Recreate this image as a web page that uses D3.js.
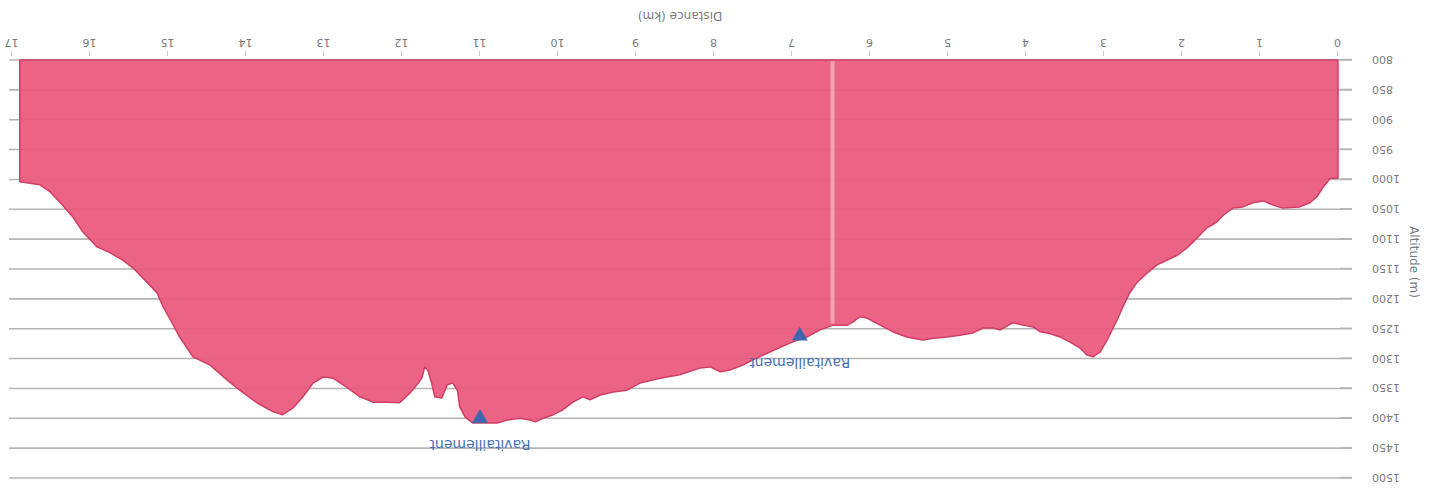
<!DOCTYPE html>
<html>
<head>
<meta charset="utf-8">
<script src="https://cdn.jsdelivr.net/npm/d3@7/dist/d3.min.js"></script>
<style>
  html, body { margin: 0; padding: 0; background: #fff; }
  svg { display: block; }
</style>
</head>
<body>
<svg id="chart" width="1447" height="494"></svg>
<script>
// Course profile: distance along the route (km) and altitude (m)
const distanceKm = [
  0.00, 0.10, 0.19, 0.27, 0.36, 0.49, 0.71, 0.83, 0.96, 1.09, 1.22, 1.35, 1.47, 1.55, 1.68, 1.77,
  1.86, 1.94, 2.06, 2.19, 2.32, 2.45, 2.58, 2.67, 2.76, 2.83, 2.96, 3.05, 3.14, 3.22, 3.31, 3.44,
  3.56, 3.73, 3.82, 3.91, 4.04, 4.17, 4.33, 4.42, 4.55, 4.68, 4.85, 5.01, 5.19, 5.32, 5.45, 5.53,
  5.71, 5.87, 6.04, 6.13, 6.22, 6.29, 6.47, 6.64, 6.81, 6.99, 7.15, 7.32, 7.50, 7.63, 7.79, 7.92,
  8.05, 8.18, 8.44, 8.69, 8.95, 9.12, 9.29, 9.46, 9.59, 9.68, 9.81, 9.94, 10.06, 10.19, 10.29, 10.36,
  10.49, 10.65, 10.78, 10.91, 11.09, 11.19, 11.26, 11.29, 11.35, 11.42, 11.49, 11.58, 11.62, 11.67, 11.71, 11.74,
  11.79, 11.90, 12.03, 12.19, 12.37, 12.54, 12.71, 12.88, 13.01, 13.14, 13.27, 13.40, 13.53, 13.65, 13.86, 14.08,
  14.24, 14.46, 14.68, 14.85, 14.97, 15.06, 15.14, 15.27, 15.45, 15.58, 15.74, 15.91, 16.09, 16.22, 16.38, 16.51,
  16.64, 16.90
];
const altitudeM = [
  998, 998, 1013, 1029, 1039, 1046, 1048, 1043, 1036, 1039, 1046, 1048, 1060, 1071, 1081, 1093,
  1105, 1115, 1127, 1135, 1143, 1157, 1173, 1190, 1214, 1235, 1269, 1289, 1297, 1294, 1282, 1272,
  1264, 1257, 1255, 1247, 1244, 1240, 1252, 1249, 1249, 1257, 1261, 1264, 1266, 1269, 1266, 1264,
  1255, 1244, 1232, 1230, 1239, 1244, 1244, 1252, 1264, 1272, 1281, 1291, 1302, 1311, 1319, 1322,
  1314, 1316, 1327, 1333, 1341, 1353, 1356, 1361, 1369, 1364, 1373, 1386, 1394, 1400, 1406, 1403,
  1400, 1403, 1408, 1408, 1408, 1398, 1381, 1353, 1341, 1344, 1366, 1364, 1341, 1319, 1314, 1331,
  1341, 1358, 1374, 1373, 1373, 1364, 1348, 1333, 1331, 1341, 1364, 1383, 1394, 1389, 1374, 1353,
  1336, 1311, 1297, 1264, 1235, 1214, 1190, 1172, 1148, 1135, 1123, 1113, 1088, 1063, 1039, 1021,
  1009, 1004
];

// Aid stations
const aidKm = [11.0, 6.9];
const aidAlt = [1400, 1262];
const aidLabels = ["Ravitaillement", "Ravitaillement"];

// Axis ticks and titles
const xTicks = d3.range(0, 18);
const yTicks = d3.range(800, 1501, 50);
const xTitle = "Distance (km)";
const yTitle = "Altitude (m)";

// Light seam in the fill
const seamKm = [6.48];

const W = 1447, H = 494;
const svg = d3.select("#chart");

// The whole profile is printed turned half a turn
const g = svg.append("g").attr("transform", `rotate(180, ${W / 2}, ${H / 2})`);

const x = d3.scaleLinear().domain([0, 17]).range([109, 1435]);
const y = d3.scaleLinear().domain([800, 1500]).range([434, 16]);

const profile = distanceKm.map((d, i) => ({ d, a: altitudeM[i] }));

// Horizontal grid
g.append("g")
  .selectAll("line")
  .data(yTicks)
  .join("line")
  .attr("x1", 95).attr("x2", 1438)
  .attr("y1", v => y(v)).attr("y2", v => y(v))
  .attr("stroke", "#b4b4b4")
  .attr("stroke-width", 1.6);

// Filled altitude area
const area = d3.area()
  .x(p => x(p.d))
  .y0(y(800))
  .y1(p => y(p.a));

g.append("path")
  .datum(profile)
  .attr("d", area)
  .attr("fill", "#ea5a7e")
  .attr("fill-opacity", 0.94)
  .attr("stroke", "#d03e64")
  .attr("stroke-width", 1.5)
  .attr("stroke-linejoin", "round");

// Seam
const altAt = km => {
  const i = d3.bisector(p => p.d).left(profile, km);
  const p0 = profile[Math.max(0, i - 1)], p1 = profile[Math.min(profile.length - 1, i)];
  const t = p1.d === p0.d ? 0 : (km - p0.d) / (p1.d - p0.d);
  return p0.a + t * (p1.a - p0.a);
};
g.append("g")
  .selectAll("line")
  .data(seamKm)
  .join("line")
  .attr("x1", k => x(k)).attr("x2", k => x(k))
  .attr("y1", y(800) - 1).attr("y2", k => y(altAt(k)) + 2)
  .attr("stroke", "#ffffff")
  .attr("stroke-opacity", 0.4)
  .attr("stroke-width", 4);

// Y axis
const yAxis = d3.axisLeft(y).tickValues(yTicks).tickSize(12).tickPadding(20).tickFormat(d3.format("d"));
const ya = g.append("g").attr("transform", "translate(107,0)").call(yAxis);
ya.select(".domain").remove();
ya.selectAll(".tick line").attr("stroke", "#b4b4b4").attr("stroke-width", 1.4);
ya.selectAll(".tick text")
  .attr("fill", "#7a7a7a")
  .style("font-family", "DejaVu Sans, sans-serif")
  .style("font-size", "11px");

// X axis
const xAxis = d3.axisBottom(x).tickValues(xTicks).tickSize(5).tickPadding(4).tickFormat(d3.format("d"));
const xa = g.append("g").attr("transform", "translate(0,438)").call(xAxis);
xa.select(".domain").remove();
xa.selectAll(".tick line").attr("stroke", "#c8c8c8");
xa.selectAll(".tick text")
  .attr("fill", "#7a7a7a")
  .style("font-family", "DejaVu Sans, sans-serif")
  .style("font-size", "11px");

// Axis titles
g.append("text")
  .attr("x", 767).attr("y", 482)
  .attr("text-anchor", "middle")
  .attr("fill", "#7a7a7a")
  .style("font-family", "DejaVu Sans, sans-serif")
  .style("font-size", "12px")
  .text(xTitle);

g.append("text")
  .attr("transform", "translate(34,232) rotate(-90)")
  .attr("text-anchor", "middle")
  .attr("dominant-baseline", "middle")
  .attr("fill", "#7a7a7a")
  .style("font-family", "DejaVu Sans, sans-serif")
  .style("font-size", "12px")
  .text(yTitle);

// Aid station markers
const aid = aidKm.map((k, i) => ({ k, a: aidAlt[i], label: aidLabels[i] }));
const tri = d3.symbol().type(d3.symbolTriangle).size(110);
const ag = g.append("g").selectAll("g").data(aid).join("g")
  .attr("transform", m => `translate(${x(m.k)},${y(m.a)})`);
ag.append("path")
  .attr("d", tri)
  .attr("transform", "rotate(180)")
  .attr("fill", "#3f66b0");
ag.append("text")
  .attr("y", -26)
  .attr("text-anchor", "middle")
  .attr("dominant-baseline", "middle")
  .attr("fill", "#4670b6")
  .style("font-family", "DejaVu Sans, sans-serif")
  .style("font-size", "14px")
  .text(m => m.label);
</script>
</body>
</html>
